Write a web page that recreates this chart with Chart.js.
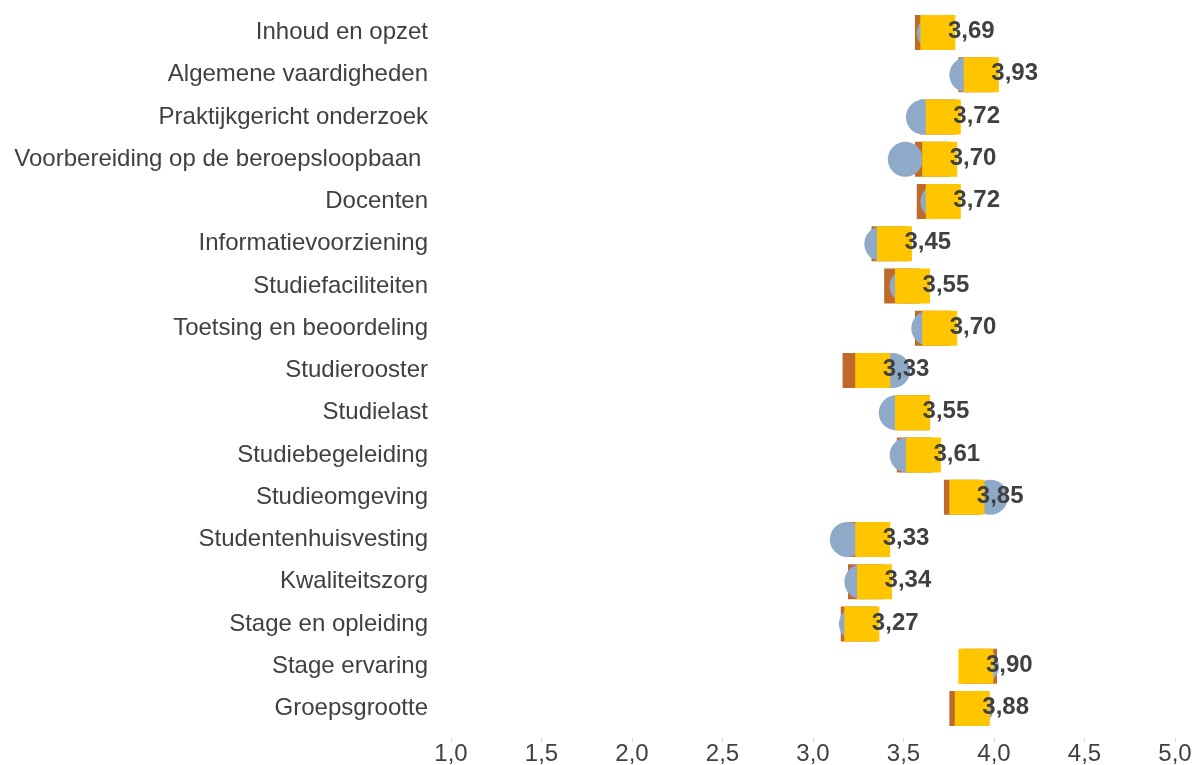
<!DOCTYPE html>
<html>
<head>
<meta charset="utf-8">
<script src="https://cdn.jsdelivr.net/npm/chart.js@4"></script>
<style>
html,body{margin:0;padding:0;background:#fff;}
#c{display:block;}
</style>
</head>
<body>
<canvas id="c" width="1195" height="765"></canvas>
<script>
const categories = [
  "Inhoud en opzet",
  "Algemene vaardigheden",
  "Praktijkgericht onderzoek",
  "Voorbereiding op de beroepsloopbaan ",
  "Docenten",
  "Informatievoorziening",
  "Studiefaciliteiten",
  "Toetsing en beoordeling",
  "Studierooster",
  "Studielast",
  "Studiebegeleiding",
  "Studieomgeving",
  "Studentenhuisvesting",
  "Kwaliteitszorg",
  "Stage en opleiding",
  "Stage ervaring",
  "Groepsgrootte"
];
const currentScores   = [3.69, 3.93, 3.72, 3.70, 3.72, 3.45, 3.55, 3.70, 3.33, 3.55, 3.61, 3.85, 3.33, 3.34, 3.27, 3.90, 3.88];
const previousScores  = [3.66, 3.90, 3.69, 3.66, 3.67, 3.42, 3.49, 3.66, 3.26, 3.55, 3.56, 3.82, 3.29, 3.29, 3.25, 3.92, 3.85];
const benchmarkScores = [3.67, 3.85, 3.61, 3.51, 3.69, 3.38, 3.52, 3.64, 3.44, 3.46, 3.52, 3.98, 3.19, 3.27, 3.24, 3.93, 3.90];
const xTickValues = [1.0, 1.5, 2.0, 2.5, 3.0, 3.5, 4.0, 4.5, 5.0];

const FONT = '"Liberation Sans", Arial, Helvetica, sans-serif';
const TEXT = '#404040';
const toPoints = vals => vals.map((v, i) => ({ x: v, y: i }));
const fmt2 = v => v.toFixed(2).replace('.', ',');
const fmt1 = v => Number(v).toFixed(1).replace('.', ',');

const valueLabels = {
  id: 'valueLabels',
  afterDatasetsDraw(chart) {
    const meta = chart.getDatasetMeta(0);
    const ctx = chart.ctx;
    ctx.save();
    ctx.font = 'bold 24px ' + FONT;
    ctx.fillStyle = TEXT;
    ctx.textAlign = 'left';
    ctx.textBaseline = 'middle';
    meta.data.forEach((pt, i) => {
      ctx.fillText(fmt2(currentScores[i]), pt.x + 10, pt.y - 1);
    });
    ctx.restore();
  }
};

new Chart(document.getElementById('c'), {
  type: 'scatter',
  data: {
    datasets: [
      {
        label: 'Huidig',
        data: toPoints(currentScores),
        order: 1,
        pointStyle: 'rect',
        pointRadius: 24.75,
        pointBorderWidth: 0,
        backgroundColor: '#FFC600',
        borderColor: '#FFC600'
      },
      {
        label: 'Benchmark',
        data: toPoints(benchmarkScores),
        order: 2,
        pointStyle: 'circle',
        pointRadius: 17.5,
        pointBorderWidth: 0,
        backgroundColor: '#8FA9C9',
        borderColor: '#8FA9C9'
      },
      {
        label: 'Vorig',
        data: toPoints(previousScores),
        order: 3,
        pointStyle: 'rect',
        pointRadius: 24.75,
        pointBorderWidth: 0,
        backgroundColor: '#BF6A2B',
        borderColor: '#BF6A2B'
      }
    ]
  },
  options: {
    responsive: false,
    animation: false,
    events: [],
    layout: { autoPadding: false, padding: { top: 11.5, right: 20, bottom: 0, left: 0 } },
    plugins: {
      legend: { display: false },
      tooltip: { enabled: false }
    },
    scales: {
      x: {
        type: 'linear',
        position: 'bottom',
        min: 1,
        max: 5,
        afterBuildTicks: s => { s.ticks = xTickValues.map(v => ({ value: v })); },
        afterFit: s => { s.height = 27; },
        border: { display: false },
        grid: { display: true, drawOnChartArea: false, drawTicks: true, tickLength: 4, color: '#d9d9d9' },
        ticks: {
          callback: v => fmt1(v),
          color: TEXT,
          font: { family: FONT, size: 24, lineHeight: 1 },
          padding: 0,
          maxRotation: 0,
          autoSkip: false
        }
      },
      y: {
        type: 'linear',
        position: 'left',
        reverse: true,
        min: -0.5,
        max: 16.7,
        afterBuildTicks: s => { s.ticks = categories.map((_, i) => ({ value: i })); },
        afterFit: s => { s.width = 451; },
        border: { display: false },
        grid: { display: false, drawTicks: true, tickLength: 23 },
        ticks: {
          callback: v => categories[v],
          color: TEXT,
          font: { family: FONT, size: 24, lineHeight: 0.8 },
          padding: 0,
          autoSkip: false
        }
      }
    }
  },
  plugins: [valueLabels]
});
</script>
</body>
</html>
